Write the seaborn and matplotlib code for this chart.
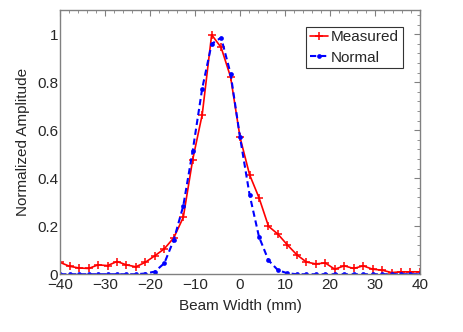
import numpy as np
import pandas as pd
import seaborn as sns
import matplotlib
matplotlib.use("Agg")
import matplotlib.pyplot as plt
from matplotlib.ticker import MultipleLocator, AutoMinorLocator

# beam position (mm), 39 samples across the scan
beam_width = [-40.0, -37.89, -35.79, -33.68, -31.58, -29.47, -27.37, -25.26,
              -23.16, -21.05, -18.95, -16.84, -14.74, -12.63, -10.53, -8.42,
              -6.32, -4.21, -2.11, 0.0, 2.11, 4.21, 6.32, 8.42, 10.53, 12.63,
              14.74, 16.84, 18.95, 21.05, 23.16, 25.26, 27.37, 29.47, 31.58,
              33.68, 35.79, 37.89, 40.0]

measured = [0.049, 0.033, 0.026, 0.024, 0.039, 0.036, 0.053, 0.039, 0.031,
            0.050, 0.077, 0.106, 0.152, 0.237, 0.478, 0.665, 0.998, 0.945,
            0.822, 0.570, 0.415, 0.319, 0.200, 0.167, 0.122, 0.081, 0.051,
            0.043, 0.047, 0.021, 0.035, 0.024, 0.035, 0.021, 0.017, 0.007,
            0.010, 0.010, 0.010]

normal = [0.0, 0.0, 0.0, 0.0, 0.0, 0.0, 0.0, 0.0, 0.0, 0.003, 0.011, 0.046,
          0.143, 0.285, 0.515, 0.774, 0.960, 0.986, 0.836, 0.570, 0.332,
          0.156, 0.058, 0.017, 0.004, 0.0, 0.0, 0.0, 0.0, 0.0, 0.0, 0.0, 0.0,
          0.0, 0.0, 0.0, 0.0, 0.0, 0.0]

df = pd.DataFrame({"x": beam_width, "Measured": measured, "Normal": normal})

sns.set_style("white")
plt.rcParams["font.family"] = ["Liberation Sans", "DejaVu Sans"]
FS = 11

fig = plt.figure(figsize=(4.63, 3.32), dpi=100)
ax = fig.add_axes([0.130, 0.174, 0.777, 0.795])

# seaborn paints marker edges white by default -> force them to the line colour
sns.lineplot(data=df, x="x", y="Measured", ax=ax, color="red", lw=1.2,
             marker="+", markersize=6, markeredgewidth=1.1,
             markeredgecolor="red", label="Measured")
sns.lineplot(data=df, x="x", y="Normal", ax=ax, color="blue", lw=1.5,
             linestyle=(0, (3, 1.8)), marker="o", markersize=3.4,
             markeredgewidth=0, markerfacecolor="blue", label="Normal")

ax.set_xlim(-40, 40)
ax.set_ylim(0, 1.1)
ax.xaxis.set_major_locator(MultipleLocator(10))
ax.xaxis.set_minor_locator(AutoMinorLocator(5))
ax.yaxis.set_major_locator(MultipleLocator(0.2))
ax.yaxis.set_minor_locator(AutoMinorLocator(5))
ax.yaxis.set_major_formatter(plt.FuncFormatter(lambda v, p: f"{v:g}"))

for s in ax.spines.values():
    s.set_color("#808080")
    s.set_linewidth(1.0)
ax.tick_params(which="both", direction="in", top=True, right=True,
               color="#808080", labelsize=FS)
ax.tick_params(axis="x", pad=3)
ax.tick_params(axis="y", pad=1.5)
ax.tick_params(which="major", length=4)
ax.tick_params(which="minor", length=2)

ax.set_xlabel("Beam Width (mm)", fontsize=FS, labelpad=5)
ax.set_ylabel("Normalized Amplitude", fontsize=FS, labelpad=5)

leg = ax.legend(loc="upper right", bbox_to_anchor=(0.952, 0.938),
                borderaxespad=0, fontsize=FS, handlelength=1.15,
                handletextpad=0.2, labelspacing=0.4, borderpad=0.25,
                fancybox=False, framealpha=1)
leg.get_frame().set_edgecolor("#333333")
leg.get_frame().set_linewidth(0.8)

fig.savefig("out.png", dpi=100)
